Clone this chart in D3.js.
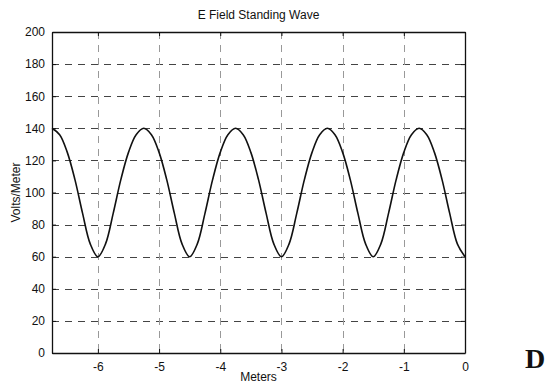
<!DOCTYPE html>
<html>
<head>
<meta charset="utf-8">
<script src="https://cdn.jsdelivr.net/npm/d3@7"></script>
<style>
body{margin:0;background:#fff;}
text{font-family:"Liberation Sans",Arial,sans-serif;fill:#111;}
</style>
</head>
<body>
<div id="svg-container"></div>
<script>
// data: position in meters, |E| in volts/meter
var meters=[-6.75,-6.625,-6.5,-6.375,-6.25,-6.125,-6,-5.875,-5.75,-5.625,-5.5,-5.375,
	-5.25,-5.125,-5,-4.875,-4.75,-4.625,-4.5,-4.375,-4.25,-4.125,-4,-3.875,
	-3.75,-3.625,-3.5,-3.375,-3.25,-3.125,-3,-2.875,-2.75,-2.625,-2.5,-2.375,
	-2.25,-2.125,-2,-1.875,-1.75,-1.625,-1.5,-1.375,-1.25,-1.125,-1,-0.875,
	-0.75,-0.625,-0.5,-0.375,-0.25,-0.125,0];
var volts=[140,136,125,108,87,68,60,68,87,108,125,136,
	140,136,125,108,87,68,60,68,87,108,125,136,
	140,136,125,108,87,68,60,68,87,108,125,136,
	140,136,125,108,87,68,60,68,87,108,125,136,
	140,136,125,108,87,68,60];
var xTicks=[-6,-5,-4,-3,-2,-1,0];
var yTicks=[0,20,40,60,80,100,120,140,160,180,200];

var width=558, height=384;
var padL=52, padR=465, padT=32, padB=353;

var svg=d3.select('#svg-container').append('svg')
	.attr('width',width).attr('height',height);

var x=d3.scaleLinear().domain([-6.75,0]).range([padL,padR]);
var y=d3.scaleLinear().domain([0,200]).range([padB,padT]);
var fmt=function(d){return String(d)};

//格線
var grid=svg.append('g');
grid.selectAll('.hg').data(yTicks.filter(function(d){return d>0&&d<200;})).enter()
	.append('line')
	.attr('x1',padL).attr('x2',padR)
	.attr('y1',function(d){return Math.round(y(d))+0.5}).attr('y2',function(d){return Math.round(y(d))+0.5})
	.attr('stroke','#444').attr('stroke-width',1).attr('stroke-dasharray','7,6');
grid.selectAll('.vg').data(xTicks.filter(function(d){return d<0;})).enter()
	.append('line')
	.attr('y1',padT).attr('y2',padB)
	.attr('x1',function(d){return Math.round(x(d))+0.5}).attr('x2',function(d){return Math.round(x(d))+0.5})
	.attr('stroke','#999').attr('stroke-width',1).attr('stroke-dasharray','7,6');

//座標軸
var axL=d3.axisLeft(y).tickValues(yTicks).tickFormat(fmt).tickSizeInner(-4).tickSizeOuter(0).tickPadding(7);
var axR=d3.axisRight(y).tickValues(yTicks).tickSizeInner(-4).tickSizeOuter(0).tickFormat('');
var axB=d3.axisBottom(x).tickValues(xTicks).tickFormat(fmt).tickSizeInner(-4).tickSizeOuter(0).tickPadding(9);
var axT=d3.axisTop(x).tickValues(xTicks).tickSizeInner(-4).tickSizeOuter(0).tickFormat('');

svg.append('g').attr('transform','translate('+padL+',0)').call(axL);
svg.append('g').attr('transform','translate('+padR+',0)').call(axR);
svg.append('g').attr('transform','translate(0,'+padB+')').call(axB);
svg.append('g').attr('transform','translate(0,'+padT+')').call(axT);
svg.selectAll('.domain').attr('stroke','#111').attr('stroke-width',1.3);
svg.selectAll('.tick line').attr('stroke','#111');
svg.selectAll('.tick text').attr('font-size',12).attr('fill','#111')
	.attr('font-family','"Liberation Sans",Arial,sans-serif');

//曲線
var line=d3.line()
	.x(function(d,i){return x(meters[i])})
	.y(function(d){return y(d)})
	.curve(d3.curveCatmullRom);
svg.append('path').datum(volts)
	.attr('d',line)
	.attr('fill','none').attr('stroke','#111').attr('stroke-width',1.6);

//文字
svg.append('text').text('E Field Standing Wave')
	.attr('x',(padL+padR)/2).attr('y',19)
	.attr('text-anchor','middle').attr('font-size',12);
svg.append('text').text('Meters')
	.attr('x',(padL+padR)/2).attr('y',381)
	.attr('text-anchor','middle').attr('font-size',12);
svg.append('text').text('Volts/Meter')
	.attr('transform','translate(20,'+((padT+padB)/2)+') rotate(-90)')
	.attr('text-anchor','middle').attr('font-size',12);
svg.append('text').text('D')
	.attr('x',535).attr('y',368)
	.attr('text-anchor','middle').attr('font-size',28).attr('font-weight','bold')
	.style('font-family','"Liberation Serif","Times New Roman",serif');
</script>
</body>
</html>
